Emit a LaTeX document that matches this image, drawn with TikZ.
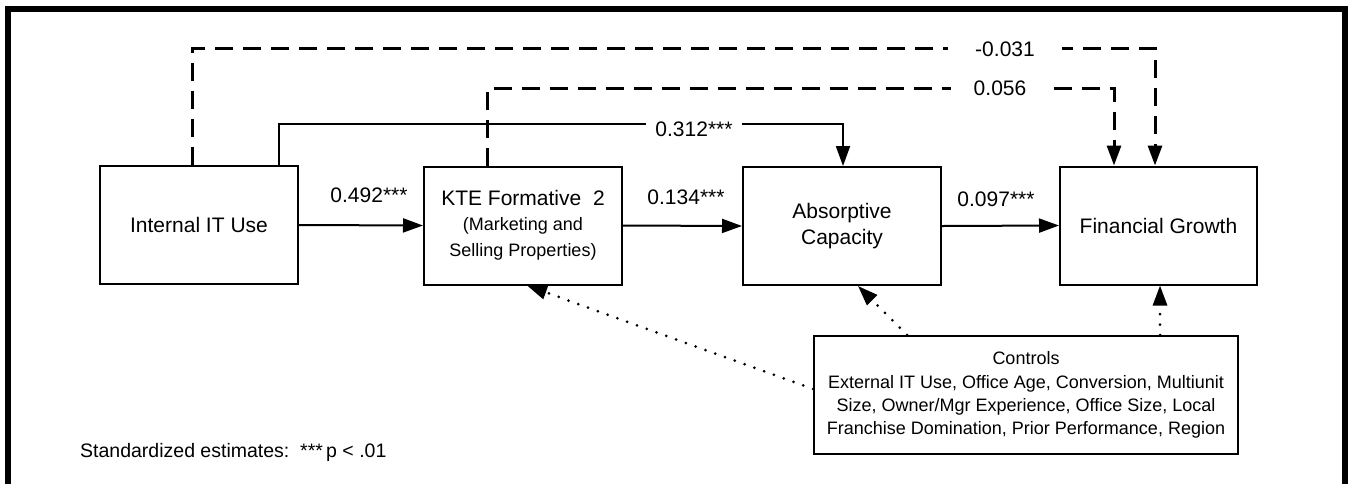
\documentclass[tikz,border=0pt]{standalone}
\usepackage{fontspec}
\setmainfont{Liberation Sans}
\usetikzlibrary{arrows.meta}
\begin{document}
\begin{tikzpicture}[x=1pt,y=-1pt,
  box/.style={draw, line width=2pt, minimum width=198pt, minimum height=118pt, align=center, inner sep=0pt, font=\fontsize{21}{26}\selectfont},
  lbl/.style={font=\fontsize{21}{25}\selectfont, inner sep=0pt},
  wlbl/.style={lbl, fill=white, inner ysep=3pt},
  arr/.style={line width=2pt, -{Triangle[length=20pt,width=14pt]}},
  dsh/.style={line width=3pt, dash pattern=on 18pt off 10pt, -{Triangle[length=20pt,width=14pt]}},
  dotarr/.style={line width=3pt, line cap=round, dash pattern=on 0pt off 10.4pt, -{Triangle[length=20pt,width=14pt]}}]
\useasboundingbox (0,0) rectangle (1348,483);
\fill[white] (0,0) rectangle (1348,483);
% frame
\draw[line width=6pt] (8,495) -- (8,9) -- (1345,9) -- (1345,495);

% boxes
\node[box] (int) at (199,225) {Internal IT Use};
\node[box] (kte) at (523,225.5) {KTE Formative\ \ 2\\[-1pt]
  \fontsize{18}{24}\selectfont (Marketing and\\
  \fontsize{18}{24}\selectfont Selling Properties)};
\node[box] (abs) at (842,226) {Absorptive\\Capacity};
\node[box, minimum width=197pt] (fin) at (1158.5,225.5) {Financial Growth};
\node[box, minimum width=424pt, font=\fontsize{18}{23.2}\selectfont] (ctl) at (1026,395)
  {Controls\\External IT Use, Office Age, Conversion, Multiunit\\Size, Owner/Mgr Experience, Office Size, Local\\Franchise Domination, Prior Performance, Region};

% main path
\draw[arr] (int.east) -- (kte.west);
\draw[arr] (kte.east) -- (abs.west);
\draw[arr] (abs.east) -- (fin.west);
\node[lbl] (l1) at (369,195) {0.492***};
\node[lbl] (l2) at (686,197) {0.134***};
\node[lbl] (l3) at (996,199) {0.097***};

% Internal IT -> Absorptive (solid)
\draw[arr] (int.north -| 279,0) |- (843,124) -- (abs.north -| 843,0);
\node[wlbl, inner xsep=9pt] (l4) at (694,129) {0.312***};

% KTE -> Financial (dashed)
\draw[dsh] (kte.north -| 487,0) |- (1114,88) -- (fin.north -| 1114,0);
\node[wlbl, inner xsep=23pt] (l5) at (1000,88) {0.056};

% Internal IT -> Financial (dashed)
\draw[dsh] (int.north -| 192,0) |- (1155,48) -- (fin.north -| 1155,0);
\node[wlbl, inner xsep=27pt] (l6) at (1005,49) {-0.031};

% controls (dotted)
\draw[dotarr] (ctl.west |- 0,389) -- (kte.south -| 527,0);
\draw[dotarr] (ctl.north -| 907,0) -- (abs.south -| 858,0);
\draw[dotarr] (ctl.north -| 1160,0) -- (fin.south -| 1160,0);

% note
\node[anchor=west, inner sep=0pt, font=\fontsize{19.5}{24}\selectfont] (note) at (80,452) {Standardized estimates:\ \ ***\,p < .01};
\end{tikzpicture}
\end{document}
